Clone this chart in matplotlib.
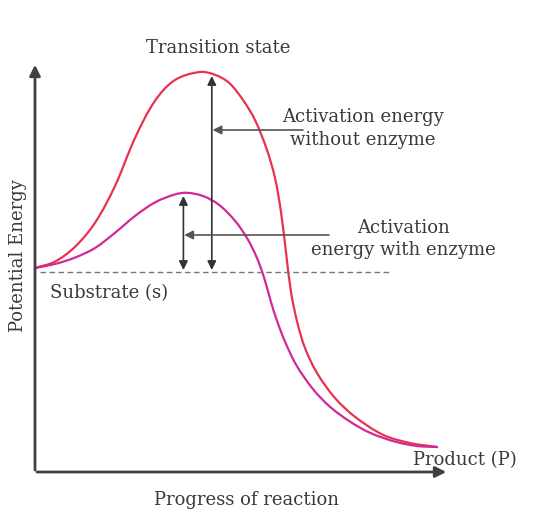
import matplotlib
matplotlib.use('Agg')
import matplotlib.pyplot as plt
import numpy as np
from matplotlib.path import Path
from matplotlib.patches import PathPatch

# ── Data (progress 0-100, energy scale) ─────────────────────────────────────
red_progress = [0, 5, 10, 15, 20, 25, 30, 35, 41.25, 45, 48.5, 52, 55, 58, 60,
                61.5, 62.8, 64, 65.6, 67.5, 70.5, 75, 80, 87, 93.75, 100.5]
red_energy = [51, 52.6, 56.3, 62.3, 71.5, 83.5, 92.8, 98, 100, 99.3, 97.3, 93, 88, 80.5,
              73.5, 65, 54.5, 45, 37.3, 31, 24.75, 18.5, 13.8, 9.3, 7.25, 6.25]

mag_progress = [0, 5, 10, 15, 20, 25, 30, 35, 38, 42, 46, 50, 53, 55.5, 57.3, 59,
                60.5, 62.5, 65.4, 69.6, 73.75, 78.75, 83.75, 90, 95.5, 100.5]
mag_energy = [51, 52, 53.6, 56, 59.8, 64, 67.4, 69.4, 69.8, 69, 66.8, 62.8, 58.5,
              53.5, 48.5, 42.5, 37.8, 32.6, 26.6, 20.6, 16.3, 12.6, 9.8, 7.6, 6.5, 6.25]

SUBSTRATE_E = 50.5
TS_E = 99.0
ENZ_PEAK_E = 69.0

TEXT = '#3a3a3a'
AXIS = '#404040'
ARROW = '#555555'
RED = '#e8334f'
MAGENTA = '#cf2a97'
FONT = 'DejaVu Serif'
FS = 13


def smooth_path(xs, ys):
    """Smooth Bezier through the read points (tangent from neighbours,
    handle length a third of each segment)."""
    p = np.column_stack([xs, ys]).astype(float)
    n = len(p)
    tang = np.zeros_like(p)
    for i in range(n):
        a = p[max(i - 1, 0)]
        b = p[min(i + 1, n - 1)]
        d = b - a
        tang[i] = d / np.hypot(*d)
    verts = [tuple(p[0])]
    codes = [Path.MOVETO]
    for i in range(n - 1):
        seg = np.hypot(*(p[i + 1] - p[i])) / 3
        verts += [tuple(p[i] + tang[i] * seg), tuple(p[i + 1] - tang[i + 1] * seg),
                  tuple(p[i + 1])]
        codes += [Path.CURVE4] * 3
    return Path(verts, codes)


fig = plt.figure(figsize=(5.38, 5.13), dpi=100)
ax = fig.add_axes([0, 0, 1, 1])
ax.set_xlim(-8.75, 125.75)
ax.set_ylim(-10.25, 118)
ax.axis('off')

# axes with arrow heads
ax.annotate('', xy=(0, 102.5), xytext=(0, -0.2),
            arrowprops=dict(arrowstyle='-|>', color=AXIS, lw=2.0, mutation_scale=16))
ax.annotate('', xy=(103.5, 0), xytext=(-0.2, 0),
            arrowprops=dict(arrowstyle='-|>', color=AXIS, lw=2.0, mutation_scale=16))

# substrate level
ax.plot([1.25, 89], [50, 50], color='#777777', lw=1.0, ls=(0, (4, 2.5)))

# curves
ax.add_patch(PathPatch(smooth_path(red_progress, red_energy), facecolor='none',
                       edgecolor=RED, lw=1.6, capstyle='round'))
ax.add_patch(PathPatch(smooth_path(mag_progress, mag_energy), facecolor='none',
                       edgecolor=MAGENTA, lw=1.6, capstyle='round'))

# activation energy double arrows
dbl = dict(arrowstyle='<|-|>', color='#333333', lw=1.2, mutation_scale=13,
           shrinkA=0, shrinkB=0)
ax.annotate('', xy=(44.2, TS_E), xytext=(44.2, SUBSTRATE_E), arrowprops=dbl)
ax.annotate('', xy=(37.1, ENZ_PEAK_E), xytext=(37.1, SUBSTRATE_E), arrowprops=dbl)

# pointer arrows
ptr = dict(arrowstyle='-|>', color=ARROW, lw=1.2, mutation_scale=13,
           shrinkA=0, shrinkB=0)
ax.annotate('', xy=(44.4, 85.5), xytext=(67, 85.5), arrowprops=ptr)
ax.annotate('', xy=(37.3, 59.25), xytext=(73.5, 59.25), arrowprops=ptr)

# labels
txt = dict(color=TEXT, fontsize=FS, family=FONT)
ax.text(45.75, 106, 'Transition state', ha='center', va='center', **txt)
ax.text(82, 88.75, 'Activation energy', ha='center', va='center', **txt)
ax.text(82, 83, 'without enzyme', ha='center', va='center', **txt)
ax.text(92, 61, 'Activation', ha='center', va='center', **txt)
ax.text(92, 55.5, 'energy with enzyme', ha='center', va='center', **txt)
ax.text(3.75, 44.75, 'Substrate (s)', ha='left', va='center', **txt)
ax.text(94.5, 3, 'Product (P)', ha='left', va='center', **txt)
ax.text(53, -7, 'Progress of reaction', ha='center', va='center', **txt)
ax.text(-4.25, 54, 'Potential Energy', ha='center', va='center', rotation=90, **txt)

fig.savefig('out.png', dpi=100, facecolor='white')
plt.close(fig)
